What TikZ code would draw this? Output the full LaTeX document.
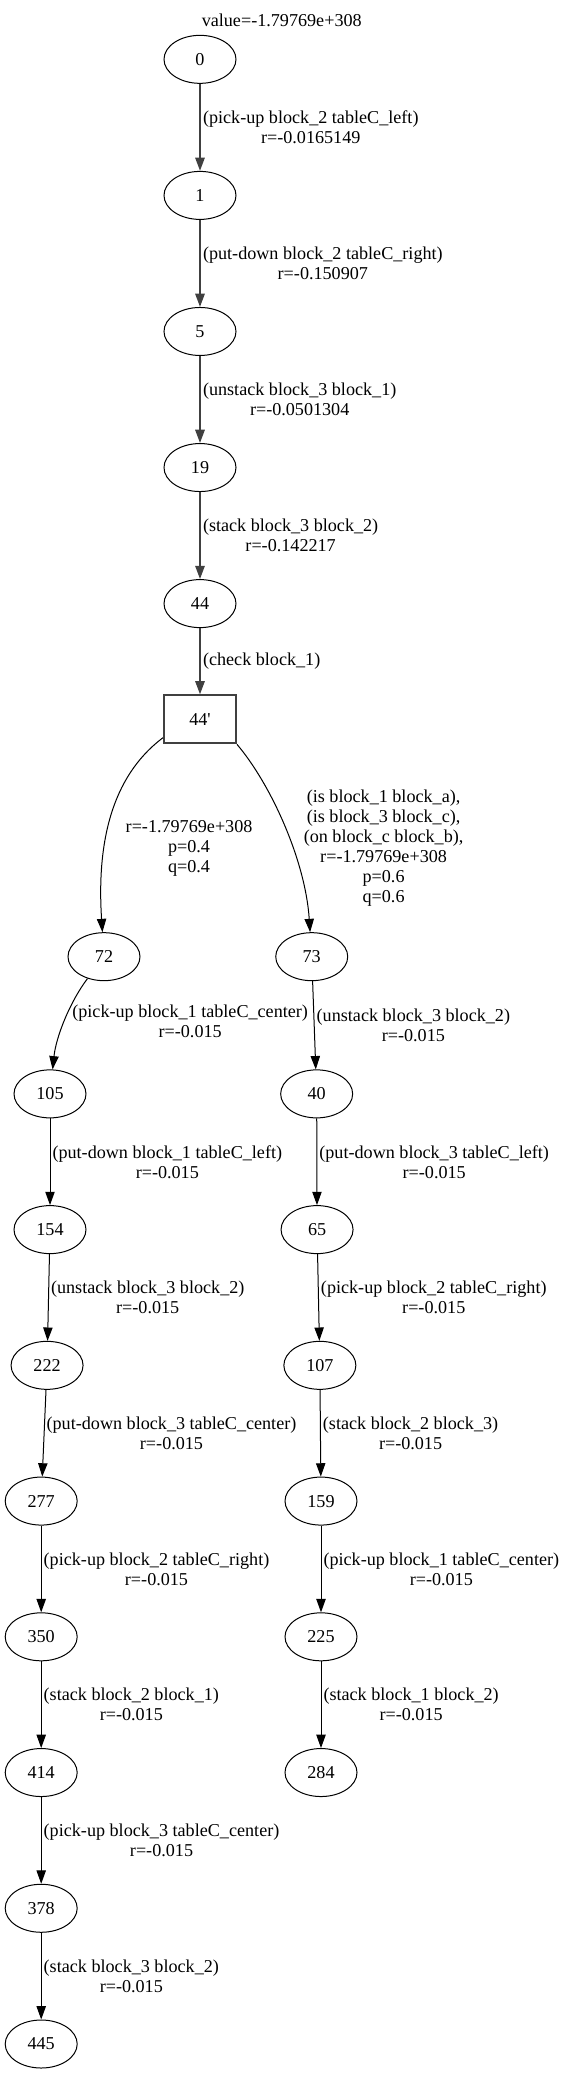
\documentclass[tikz,border=0pt]{standalone}
\usepackage{fontspec}
\setmainfont{Liberation Serif}
\usetikzlibrary{shapes.geometric,arrows.meta,positioning}
\newcommand{\RankGap}{65.3pt}
\newcommand{\LowGap}{65.05pt}
\tikzset{
  state/.style={ellipse, draw, line width=0.75pt, minimum width=54pt, minimum height=36pt, inner sep=1pt},
  chance/.style={rectangle, draw=black!75, line width=1.5pt, minimum width=54pt, minimum height=36pt},
  trans/.style={-{Triangle[length=10pt,width=7pt]}, line width=0.75pt},
  plan/.style={trans, draw=black!75, fill=none, line width=1.5pt},
  elabel/.style={align=center, inner sep=1.5pt}
}

\begin{document}
\begin{tikzpicture}[font=\fontsize{13.6pt}{15pt}\selectfont]
	\useasboundingbox (0,0) rectangle (422.25pt,-1556.25pt);
	\node (value) at (211.3pt,-15.5pt) {value=-1.79769e+308};
	% plan from the start state
	\node[state] (s0) at (150pt,-44.5pt) {0};
	\node[state, below=\RankGap of s0] (s1) {1};
	\node[state, below=\RankGap of s1] (s5) {5};
	\node[state, below=\RankGap of s5] (s19) {19};
	\node[state, below=\RankGap of s19] (s44) {44};
	\node[chance, below=49.7pt of s44] (s44c) {44\textquotesingle};
	% left outcome
	\node[state] (s72) at (78pt,-717.5pt) {72};
	\node[state, below=66.15pt of s72, xshift=-40.5pt] (s105) {105};
	\node[state, below=\LowGap of s105] (s154) {154};
	\node[state, below=\LowGap of s154, xshift=-2.2pt] (s222) {222};
	\node[state, below=\LowGap of s222, xshift=-4.4pt] (s277) {277};
	\node[state, below=\LowGap of s277] (s350) {350};
	\node[state, below=\LowGap of s350] (s414) {414};
	\node[state, below=\LowGap of s414] (s378) {378};
	\node[state, below=\LowGap of s378] (s445) {445};
	% right outcome
	\node[state] (s73) at (233.8pt,-717.5pt) {73};
	\node[state, below=66.15pt of s73, xshift=3.7pt] (s40) {40};
	\node[state, below=\LowGap of s40, xshift=0.3pt] (s65) {65};
	\node[state, below=\LowGap of s65, xshift=2.1pt] (s107) {107};
	\node[state, below=\LowGap of s107, xshift=0.85pt] (s159) {159};
	\node[state, below=\LowGap of s159] (s225) {225};
	\node[state, below=\LowGap of s225] (s284) {284};

	\draw[plan] (s0) -- node[elabel, right] {(pick-up block\_2 tableC\_left)\\r=-0.0165149} (s1);
	\draw[plan] (s1) -- node[elabel, right] {(put-down block\_2 tableC\_right)\\r=-0.150907} (s5);
	\draw[plan] (s5) -- node[elabel, right] {(unstack block\_3 block\_1)\\r=-0.0501304} (s19);
	\draw[plan] (s19) -- node[elabel, right] {(stack block\_3 block\_2)\\r=-0.142217} (s44);
	\draw[plan] (s44) -- node[elabel, right] {(check block\_1)} (s44c);

	\draw[trans] ([yshift=5pt]s44c.south west) .. controls (80pt,-585pt) and (73pt,-640pt) .. (s72);
	\node[elabel] (p72) at (141.8pt,-636pt) {r=-1.79769e+308\\p=0.4\\q=0.4};
	\draw[trans] (s44c.south east) .. controls (203pt,-588pt) and (229pt,-645pt) .. (s73);
	\node[elabel] (p73) at (287.7pt,-636.3pt) {(is block\_1 block\_a),\\(is block\_3 block\_c),\\(on block\_c block\_b),\\r=-1.79769e+308\\p=0.6\\q=0.6};

	\draw[trans] (s72) .. controls (52pt,-752pt) and (42pt,-778pt) .. node[elabel, right=4pt] {(pick-up block\_1 tableC\_center)\\r=-0.015} (s105);
	\draw[trans] (s105) -- node[elabel, right] {(put-down block\_1 tableC\_left)\\r=-0.015} (s154);
	\draw[trans] (s154) -- node[elabel, right] {(unstack block\_3 block\_2)\\r=-0.015} (s222);
	\draw[trans] (s222) -- node[elabel, right] {(put-down block\_3 tableC\_center)\\r=-0.015} (s277);
	\draw[trans] (s277) -- node[elabel, right] {(pick-up block\_2 tableC\_right)\\r=-0.015} (s350);
	\draw[trans] (s350) -- node[elabel, right] {(stack block\_2 block\_1)\\r=-0.015} (s414);
	\draw[trans] (s414) -- node[elabel, right] {(pick-up block\_3 tableC\_center)\\r=-0.015} (s378);
	\draw[trans] (s378) -- node[elabel, right] {(stack block\_3 block\_2)\\r=-0.015} (s445);

	\draw[trans] (s73) -- node[elabel, right] {(unstack block\_3 block\_2)\\r=-0.015} (s40);
	\draw[trans] (s40) -- node[elabel, right] {(put-down block\_3 tableC\_left)\\r=-0.015} (s65);
	\draw[trans] (s65) -- node[elabel, right] {(pick-up block\_2 tableC\_right)\\r=-0.015} (s107);
	\draw[trans] (s107) -- node[elabel, right] {(stack block\_2 block\_3)\\r=-0.015} (s159);
	\draw[trans] (s159) -- node[elabel, right] {(pick-up block\_1 tableC\_center)\\r=-0.015} (s225);
	\draw[trans] (s225) -- node[elabel, right] {(stack block\_1 block\_2)\\r=-0.015} (s284);
\end{tikzpicture}
\end{document}
